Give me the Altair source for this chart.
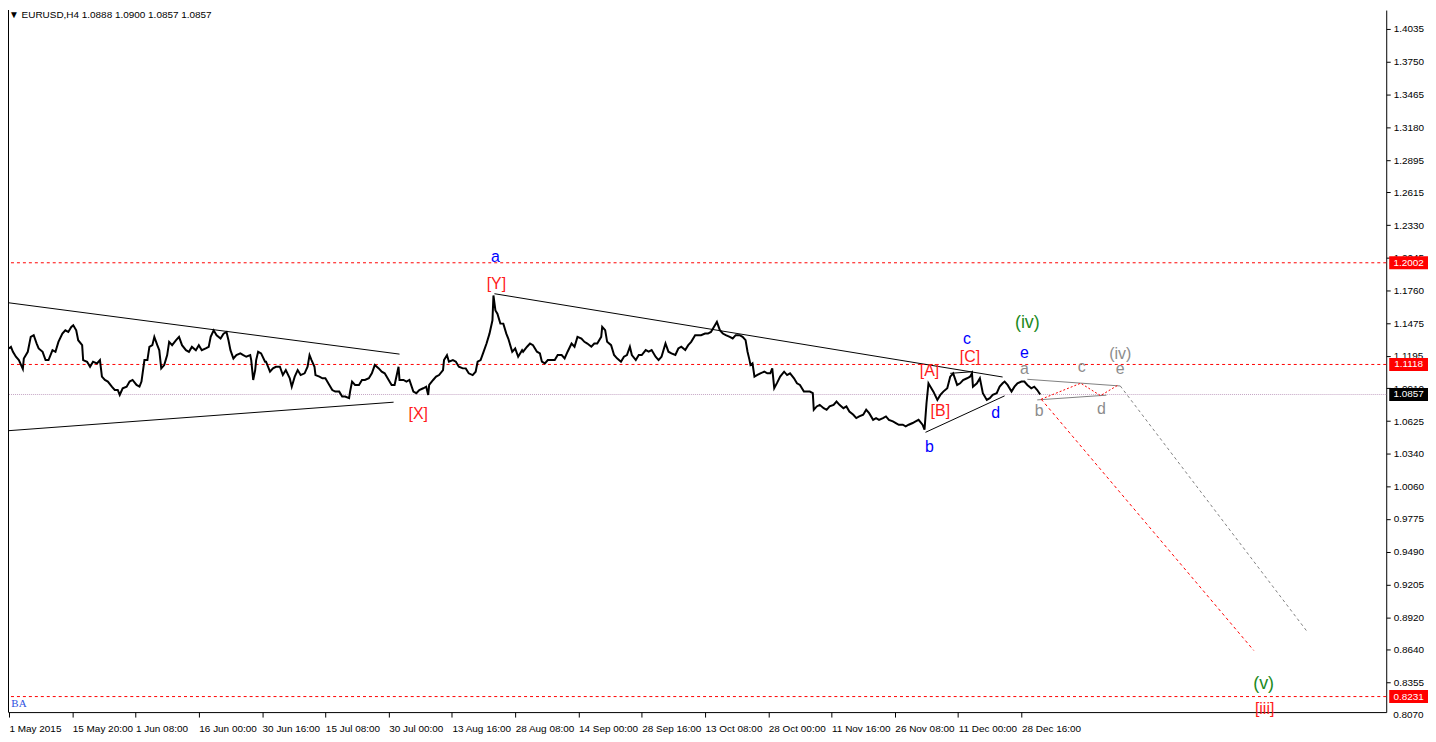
import json
import altair as alt
import pandas as pd

# ---------------- price series (H4 bar index, close) ----------------
bars = [0,2,4,7,10,14,15,19,22,25,28,30,34,37,40,44,47,50,54,57,60,63,65,68,70,74,75,79,82,85,89,92,94,97,100,104,107,110,112,115,119,122,125,129,132,134,137,140,142,145,147,150,152,154,157,160,162,165,169,172,175,179,182,185,189,192,195,199,202,204,207,210,214,217,220,222,224,227,230,234,237,240,244,245,247,249,250,252,255,259,
        260,264,267,270,274,277,280,284,286,289,292,295,299,302,304,306,309,310,314,317,320,324,327,330,334,337,340,344,345,347,350,354,357,360,364,367,370,374,377,380,384,387,390,394,395,399,402,405,409,412,415,419,422,424,425,429,432,435,439,440,443,445,449,452,455,459,462,465,469,472,474,477,480,483,486,489,490,492,494,497,500,503,505,509,512,515,519,
        520,524,527,530,534,537,539,542,545,549,552,555,559,562,565,569,572,575,579,582,585,589,592,595,599,600,603,605,609,612,615,619,622,625,628,630,634,637,640,644,647,650,654,657,660,664,667,670,674,677,680,684,687,690,694,697,700,704,707,710,714,716,719,722,725,729,732,735,739,742,745,747,749,750,752,754,757,760,764,767,770,772,774,
        777,780,784,787,790,794,797,800,804,807,810,813,814,817,820,824,827,830,834,837,840,844,847,850,854,857,860,864,867,870,874,877,880,884,887,890,894,897,900,904,907,910,914,917,920,924,926,928,930,932,935,939,942,945,949,952,955,959,962,965,969,972,974,975,979,982,985,989,992,995,999,1002,1005,1007,1010,1014,1017,1020,1024,1027,1030,1034,1037,1040,1043]
prices = [1.1257,1.1271,1.1228,1.1185,1.1156,1.1080,1.1170,1.1228,1.1358,1.1372,1.1300,1.1257,1.1228,1.1156,1.1156,1.1242,1.1228,1.1314,1.1386,1.1415,1.1401,1.1444,1.1458,1.1415,1.1329,1.1286,1.1156,1.1142,1.1098,1.1142,1.1127,1.1156,1.1012,1.0983,1.0969,1.0925,1.0896,1.0896,1.0853,1.0911,1.0925,1.0969,1.0983,1.0940,1.0925,1.0969,1.1156,1.1156,1.1271,1.1286,1.1358,1.1286,1.1242,1.1084,1.1113,1.1199,1.1314,1.1286,1.1329,1.1358,1.1286,1.1242,1.1228,1.1271,1.1242,1.1286,1.1242,1.1257,1.1271,1.1358,1.1415,1.1372,1.1343,1.1386,1.1401,1.1329,1.1242,1.1170,1.1199,1.1214,1.1199,1.1185,1.1199,1.1156,1.0983,1.1069,1.1156,1.1228,1.1214,1.1142,
          1.1142,1.1055,1.1084,1.1098,1.1098,1.1026,1.1069,1.0998,1.0925,1.1012,1.1069,1.1026,1.1041,1.1098,1.1199,1.1156,1.1098,1.1026,1.1012,1.0998,1.0998,1.0940,1.0896,1.0882,1.0882,1.0839,1.0839,1.0825,1.0882,1.0969,1.0940,1.0940,1.0983,1.0983,1.0998,1.1041,1.1113,1.1084,1.1055,1.1041,1.0983,1.0940,1.0940,1.1098,1.0983,1.0983,1.0969,1.0983,1.0882,1.0868,1.0896,1.0911,1.0925,1.0853,1.0940,1.0983,1.1012,1.1026,1.1069,1.1156,1.1199,1.1142,1.1156,1.1142,1.1098,1.1084,1.1084,1.1041,1.1026,1.1055,1.1142,1.1156,1.1228,1.1300,1.1386,1.1502,1.1718,1.1588,1.1559,1.1473,1.1473,1.1386,1.1343,1.1228,1.1257,1.1185,1.1242,
          1.1229,1.1272,1.1300,1.1286,1.1229,1.1214,1.1142,1.1127,1.1156,1.1156,1.1156,1.1200,1.1200,1.1171,1.1229,1.1300,1.1272,1.1358,1.1344,1.1315,1.1300,1.1272,1.1300,1.1300,1.1358,1.1445,1.1416,1.1315,1.1286,1.1200,1.1171,1.1142,1.1185,1.1200,1.1272,1.1200,1.1156,1.1200,1.1200,1.1243,1.1229,1.1243,1.1185,1.1156,1.1185,1.1300,1.1229,1.1214,1.1200,1.1257,1.1272,1.1243,1.1286,1.1315,1.1373,1.1373,1.1373,1.1387,1.1387,1.1401,1.1459,1.1488,1.1416,1.1387,1.1373,1.1358,1.1344,1.1373,1.1373,1.1358,1.1329,1.1229,1.1156,1.1113,1.1127,1.1012,1.1027,1.1041,1.1056,1.1041,1.1041,1.1084,1.0912,
          1.0960,1.1012,1.1055,1.1026,1.1041,1.0998,1.0954,1.0940,1.0882,1.0882,1.0882,1.0868,1.0724,1.0753,1.0767,1.0738,1.0724,1.0753,1.0767,1.0796,1.0767,1.0738,1.0753,1.0709,1.0681,1.0652,1.0666,1.0681,1.0724,1.0695,1.0637,1.0652,1.0637,1.0652,1.0666,1.0637,1.0623,1.0609,1.0594,1.0594,1.0580,1.0594,1.0609,1.0623,1.0637,1.0594,1.0551,1.0781,1.0954,1.0925,1.0882,1.0810,1.0853,1.0882,1.0911,1.1012,1.1041,1.0940,1.0954,1.0983,1.0998,1.1012,1.1041,1.0925,1.0954,1.0998,1.0868,1.0810,1.0825,1.0853,1.0868,1.0925,1.0954,1.0969,1.0940,1.0882,1.0925,1.0954,1.0969,1.0969,1.0940,1.0911,1.0925,1.0896,1.0857]

# ---------------- axes ----------------
tick_prices = [1.4035,1.3750,1.3465,1.3180,1.2895,1.2615,1.2330,1.2045,1.1760,1.1475,1.1195,1.0910,
               1.0625,1.0340,1.0060,0.9775,0.9490,0.9205,0.8920,0.8640,0.8355]
bottom_tick_price = [0.8070]
tick_bars = [0,64,128,192,256,320,384,448,512,576,640,704,768,832,896,960,1024]
date_labels = ["1 May 2015","15 May 20:00","1 Jun 08:00","16 Jun 00:00","30 Jun 16:00","15 Jul 08:00",
               "30 Jul 00:00","13 Aug 16:00","28 Aug 08:00","14 Sep 00:00","28 Sep 16:00","13 Oct 08:00",
               "28 Oct 00:00","11 Nov 16:00","26 Nov 08:00","11 Dec 00:00","28 Dec 16:00"]

# ---------------- levels ----------------
red_levels = [1.2002, 1.1118, 0.8231]
last_price = [1.0857]

# ---------------- trendlines (bar, price) ----------------
black_seg = ["t1","t1","t2","t2","t3","t3","t4","t4","t5","t5"]
black_bar = [-1, 395, -1, 389, 491, 1005, 927, 1007, 952, 975]
black_px  = [1.1655, 1.1208, 1.0542, 1.0790, 1.1733, 1.1009, 1.0528, 1.0845, 1.1041, 1.1055]

gray_seg = ["g1","g1","g2","g2"]
gray_bar = [1030, 1124, 1040, 1110]
gray_px  = [1.0989, 1.0931, 1.0810, 1.0851]

zig_bar = [1044, 1084, 1104, 1122]
zig_px  = [1.0816, 1.0955, 1.0847, 1.0940]

red_proj_bar = [1044, 1259]
red_proj_px  = [1.0816, 0.8632]
gray_proj_bar = [1124, 1313]
gray_proj_px  = [1.0931, 0.8796]

# ---------------- wave labels ----------------
blue_txt = ["a","b","c","d","e"]
blue_bar = [492, 931, 969, 998, 1027]
blue_px  = [1.2055, 1.0404, 1.1338, 1.0698, 1.1215]

red_txt = ["[Y]","[X]","[A]","[B]","[C]","[iii]"]
red_bar = [493, 414, 931, 942, 972, 1270]
red_px  = [1.1813, 1.0689, 1.1061, 1.0715, 1.1182, 0.8125]

gray_txt = ["a","b","c","d","e","(iv)"]
gray_lbar = [1027, 1042, 1085, 1105, 1124, 1124]
gray_lpx  = [1.1080, 1.0715, 1.1096, 1.0732, 1.1078, 1.1208]

green_txt = ["(iv)","(v)"]
green_bar = [1030, 1269]
green_px  = [1.1476, 0.8338]

# ---------------- build ----------------
W, H = 1386, 706
FONT = "Liberation Sans"

xscale = alt.Scale(domain=[-1, 1393], nice=False, zero=False)
yscale = alt.Scale(domain=[0.8096, 1.4199], nice=False, zero=False)

label_expr = json.dumps(date_labels) + "[round(datum.value/64)]"
xaxis = alt.Axis(values=tick_bars, labelExpr=label_expr, labelAlign="left", labelPadding=7,
                 tickSize=5, labelFont=FONT, labelFontSize=10, labelColor="black",
                 domainColor="black", tickColor="black", grid=False, title=None,
                 labelOverlap=False, labelFlush=False, labelBound=False)
yaxis = alt.Axis(orient="right", values=tick_prices, format=".4f", tickSize=4, labelPadding=3,
                 labelFont=FONT, labelFontSize=10, labelColor="black", domainColor="black",
                 tickColor="black", grid=False, title=None, labelOverlap=False, labelFlush=False,
                 labelBound=False)

def X(f):
    return alt.X(f, type="quantitative", scale=xscale, axis=xaxis)

def Y(f):
    return alt.Y(f, type="quantitative", scale=yscale, axis=yaxis)

series = pd.DataFrame({"bar": bars, "price": prices})
levels = pd.DataFrame({"price": red_levels})
lastdf = pd.DataFrame({"price": last_price})
blk = pd.DataFrame({"seg": black_seg, "bar": black_bar, "price": black_px})
gry = pd.DataFrame({"seg": gray_seg, "bar": gray_bar, "price": gray_px})
zig = pd.DataFrame({"bar": zig_bar, "price": zig_px})
rproj = pd.DataFrame({"bar": red_proj_bar, "price": red_proj_px})
gproj = pd.DataFrame({"bar": gray_proj_bar, "price": gray_proj_px})

layers = []
layers.append(alt.Chart(levels).mark_rule(color="#ff0000", strokeDash=[3, 3], strokeWidth=1).encode(y=Y("price")))
layers.append(alt.Chart(lastdf).mark_rule(color="#c4a4c4", strokeDash=[1, 1], strokeWidth=1).encode(y=Y("price")))
layers.append(alt.Chart(blk).mark_line(color="black", strokeWidth=1).encode(x=X("bar"), y=Y("price"), detail="seg:N"))
layers.append(alt.Chart(series).mark_line(color="black", strokeWidth=2, strokeJoin="miter").encode(x=X("bar"), y=Y("price")))
layers.append(alt.Chart(gry).mark_line(color="#808080", strokeWidth=1).encode(x=X("bar"), y=Y("price"), detail="seg:N"))
layers.append(alt.Chart(zig).mark_line(color="#ff0000", strokeWidth=1, strokeDash=[2, 2]).encode(x=X("bar"), y=Y("price")))
layers.append(alt.Chart(rproj).mark_line(color="#ff0000", strokeWidth=1, strokeDash=[3, 3]).encode(x=X("bar"), y=Y("price")))
layers.append(alt.Chart(gproj).mark_line(color="#808080", strokeWidth=1, strokeDash=[3, 3]).encode(x=X("bar"), y=Y("price")))

def labels(txt, b, p, color, size):
    df = pd.DataFrame({"txt": txt, "bar": b, "price": p})
    return alt.Chart(df).mark_text(color=color, font=FONT, fontSize=size, align="center",
                                   baseline="middle", clip=False).encode(x=X("bar"), y=Y("price"), text="txt:N")

layers.append(labels(blue_txt, blue_bar, blue_px, "#0000ff", 16))
layers.append(labels(red_txt, red_bar, red_px, "#ff1a1a", 16))
layers.append(labels(gray_txt, gray_lbar, gray_lpx, "#8c8c8c", 16))
layers.append(labels(green_txt, green_bar, green_px, "#1c8a1c", 18))

# lowest price-scale label, which sits just under the frame
bt = pd.DataFrame({"price": bottom_tick_price})
layers.append(alt.Chart(bt).mark_text(color="black", font=FONT, fontSize=10, align="left",
                                       baseline="middle", clip=False).encode(
    x=alt.value(W + 7), y=Y("price"), text=alt.Text("price:Q", format=".4f")))

# price boxes on right axis
boxdf = pd.DataFrame({"price": red_levels + last_price, "kind": ["lvl", "lvl", "lvl", "last"]})
box = alt.Chart(boxdf).transform_calculate(hi="datum.price + 0.0056", lo="datum.price - 0.0056")
layers.append(box.mark_rect(clip=False).encode(
    x=alt.value(W + 3), x2=alt.value(W + 42), y=Y("hi:Q"), y2="lo:Q",
    color=alt.Color("kind:N", scale=alt.Scale(domain=["lvl", "last"], range=["#ff0000", "#000000"]), legend=None)))
layers.append(alt.Chart(boxdf).mark_text(color="white", font=FONT, fontSize=10, align="center",
                                          baseline="middle", clip=False).encode(
    x=alt.value(W + 22.5), y=Y("price"), text=alt.Text("price:Q", format=".4f")))

# left border
layers.append(alt.Chart(levels).mark_rule(color="black", strokeWidth=1).encode(
    x=alt.value(0.5), y=alt.value(0), y2=alt.value(H)))

# header text
hdr = pd.DataFrame({"t": ["\u25bc EURUSD,H4  1.0888 1.0900 1.0857 1.0857"]})
layers.append(alt.Chart(hdr).mark_text(color="black", font=FONT, fontSize=10, align="left",
                                        baseline="middle", clip=False).encode(
    x=alt.value(1), y=alt.value(5), text="t:N"))
ba = pd.DataFrame({"t": ["BA"]})
layers.append(alt.Chart(ba).mark_text(color="#3050e0", font="Liberation Serif", fontSize=11, align="center",
                                       baseline="middle", clip=False).encode(
    x=alt.value(11), y=alt.value(698), text="t:N"))

chart = alt.layer(*layers).properties(
    width=W, height=H,
    autosize=alt.AutoSizeParams(type="none"),
    padding={"left": 0, "top": 0, "right": 42, "bottom": 26},
    background="white",
).configure_view(stroke=None)

chart.save("out.html", embed_options={"renderer": "svg", "actions": False})
